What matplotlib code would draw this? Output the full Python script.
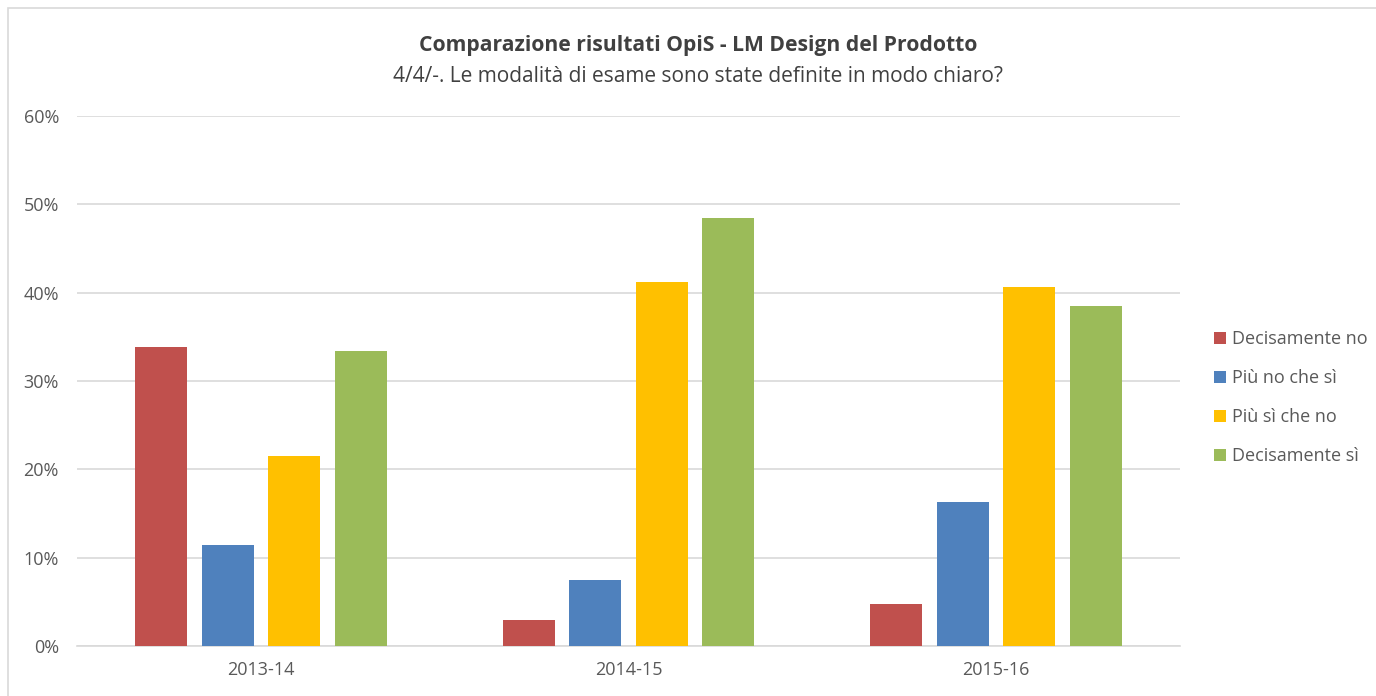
import matplotlib
matplotlib.use("Agg")
import matplotlib.pyplot as plt
import numpy as np
from matplotlib.patches import Rectangle

# Survey results by academic year
years = ["2013-14", "2014-15", "2015-16"]
answers = ["Decisamente no", "Più no che sì", "Più sì che no", "Decisamente sì"]
decisamente_no = [33.8, 3.0, 4.7]
piu_no_che_si = [11.4, 7.5, 16.3]
piu_si_che_no = [21.5, 41.2, 40.6]
decisamente_si = [33.4, 48.4, 38.5]
colors = ["#C0504D", "#4F81BD", "#FFC000", "#9BBB59"]

series = [decisamente_no, piu_no_che_si, piu_si_che_no, decisamente_si]

plt.rcParams["font.family"] = ["Open Sans", "DejaVu Sans"]

W, H = 1376, 696
fig = plt.figure(figsize=(W / 100, H / 100), dpi=100)
ax = fig.add_axes([77 / W, 1 - 646 / H, (1180 - 77) / W, (646 - 116) / H])

x = np.arange(len(years))
width = 0.1414
step = 0.181
for i, (vals, name) in enumerate(zip(series, answers)):
    ax.bar(x + (i - 1.5) * step, vals, width, color=colors[i], label=name, zorder=3)

ax.set_xlim(-0.5, 2.5)
ax.set_ylim(0, 60)
ax.set_yticks(np.arange(0, 61, 10))
ax.set_yticklabels([f"{v}%" for v in range(0, 61, 10)])
ax.set_xticks(x)
ax.set_xticklabels(years)
ax.grid(axis="y", color="#D9D9D9", linewidth=1.2, zorder=0)
for s in ["top", "right", "left"]:
    ax.spines[s].set_visible(False)
ax.spines["bottom"].set_color("#D9D9D9")
ax.spines["bottom"].set_linewidth(1.2)
ax.tick_params(axis="both", length=0, colors="#595959", labelsize=13)
ax.tick_params(axis="y", pad=13)
ax.tick_params(axis="x", pad=11)

title_x = 698 / W
fig.text(title_x, 1 - 45 / H, "Comparazione risultati OpiS - LM Design del Prodotto",
         ha="center", va="center", fontsize=15.2, fontweight="bold", color="#404040")
fig.text(title_x, 1 - 76 / H, "4/4/-. Le modalità di esame sono state definite in modo chiaro?",
         ha="center", va="center", fontsize=15.0, color="#404040")

leg = fig.legend(loc="upper left", bbox_to_anchor=(1214 / W, 1 - 330 / H),
                 frameon=False, fontsize=13, labelcolor="#595959", borderpad=0,
                 borderaxespad=0, handlelength=0.67, handleheight=0.67,
                 handletextpad=0.33, labelspacing=1.17)

# Outer chart frame
fig.patches.append(Rectangle((8 / W, -0.01), 1.1, 1 - 8 / H + 0.01,
                             transform=fig.transFigure, fill=False,
                             edgecolor="#D9D9D9", linewidth=1.2))

fig.savefig("out.png", dpi=100)
